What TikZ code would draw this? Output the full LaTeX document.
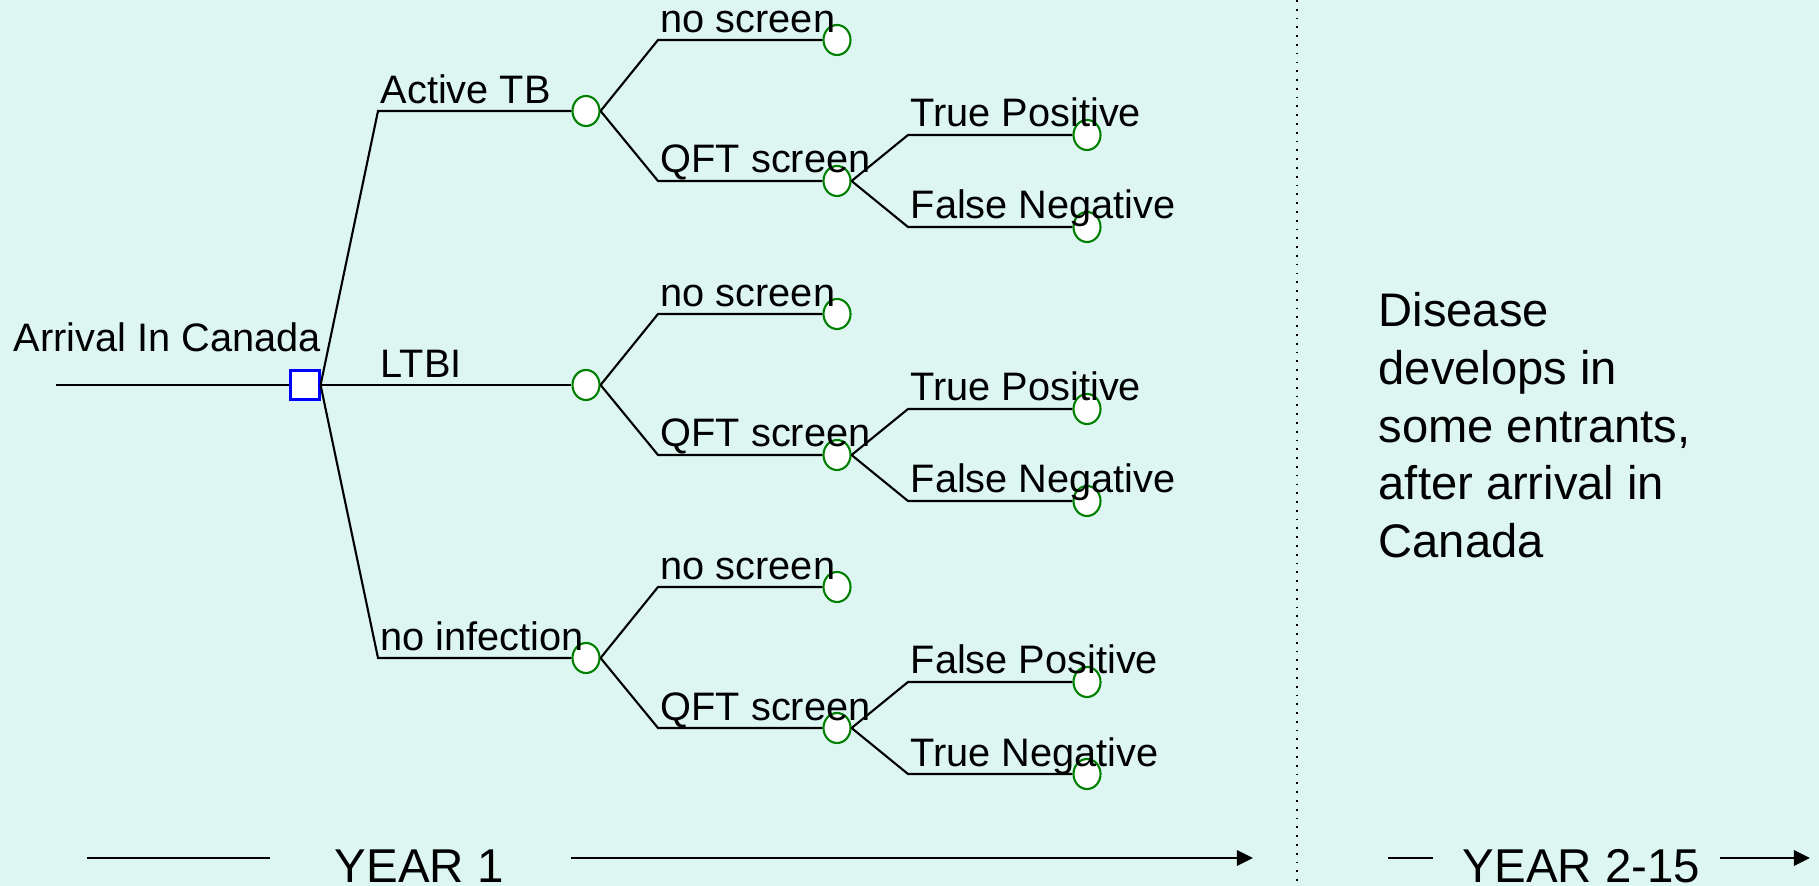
\documentclass[tikz,border=0pt]{standalone}
\usepackage{fontspec}
\setmainfont{Liberation Sans}
\usetikzlibrary{arrows.meta,shapes.geometric}
\definecolor{bgcyan}{RGB}{221,246,241}
\definecolor{chgreen}{RGB}{0,128,0}
\definecolor{decblue}{RGB}{0,0,255}
\tikzset{
  branch/.style={line width=0.6pt},
  chance/.style={ellipse, draw=chgreen, fill=white, line width=0.6pt,
    minimum width=0.27cm, minimum height=0.30cm, inner sep=0pt},
  decision/.style={draw=decblue, fill=white, line width=0.6pt,
    minimum size=0.29cm, inner sep=0pt},
  lbl/.style={anchor=base west, inner sep=0pt, font=\fontsize{11.3}{13}\selectfont},
  biglbl/.style={anchor=base west, inner sep=0pt, font=\fontsize{13.5}{16}\selectfont},
  timearrow/.style={line width=0.6pt, -{Triangle[length=4.6pt,width=4.4pt]}}
}
\begin{document}
\begin{tikzpicture}[x=0.01cm,y=-0.01cm]
\fill[bgcyan] (0,0) rectangle (1819,886);
\useasboundingbox (0,0) rectangle (1819,886);

% root: decision node
\node[decision] (arr) at (305,385) {};
\coordinate (start) at (56,385);
\draw[branch] (start) -- (arr.west);
\node[lbl] (arrtxt) at (13,352) {Arrival In Canada};

% three infection states, each with screening choice
\foreach \g/\y/\name/\up/\dn in {A/111/Active TB/True Positive/False Negative,
                                 B/385/LTBI/True Positive/False Negative,
                                 C/658/no infection/False Positive/True Negative}{
  \coordinate (c\g) at (378,\y);
  \node[chance] (ch\g) at (586,\y) {};
  \coordinate (ns\g) at (658,\y-71);
  \node[chance] (nsend\g) at (837,\y-71) {};
  \coordinate (qs\g) at (658,\y+70);
  \node[chance] (qft\g) at (837,\y+70) {};
  \coordinate (up\g) at (908,\y+24);
  \node[chance] (upend\g) at (1087,\y+24) {};
  \coordinate (dn\g) at (908,\y+116);
  \node[chance] (dnend\g) at (1087,\y+116) {};
  \draw[branch] (arr.east) -- (c\g) -- (ch\g.west);
  \draw[branch] (ch\g.east) -- (ns\g) -- (nsend\g.west);
  \draw[branch] (ch\g.east) -- (qs\g) -- (qft\g.west);
  \draw[branch] (qft\g.east) -- (up\g) -- (upend\g.west);
  \draw[branch] (qft\g.east) -- (dn\g) -- (dnend\g.west);
  \node[lbl] (lab\g) at (380,\y-7) {\name};
  \node[lbl] (nslab\g) at (660,\y-78) {no screen};
  \node[lbl] (qslab\g) at (660,\y+62) {QFT screen};
  \node[lbl] (uplab\g) at (910,\y+16) {\up};
  \node[lbl] (dnlab\g) at (910,\y+108) {\dn};
}

% later years
\draw[dotted, line width=0.5pt] (1297,0) -- (1297,886);
\node[anchor=north west, align=left, inner sep=0pt,
  font=\fontsize{13.4}{16.4}\selectfont] (note) at (1378,292)
  {Disease\\develops in\\some entrants,\\after arrival in\\Canada};

% time axis
\coordinate (t1a) at (87,858);
\coordinate (t1b) at (270,858);
\coordinate (t1c) at (571,858);
\coordinate (t1d) at (1253,858);
\coordinate (t2a) at (1388,858);
\coordinate (t2b) at (1433,858);
\coordinate (t2c) at (1720,858);
\coordinate (t2d) at (1810,858);
\draw[branch] (t1a) -- (t1b);
\node[biglbl] (year1) at (334,882) {YEAR 1};
\draw[timearrow] (t1c) -- (t1d);
\draw[branch] (t2a) -- (t2b);
\node[biglbl] (year2) at (1462,882) {YEAR 2-15};
\draw[timearrow] (t2c) -- (t2d);
\end{tikzpicture}
\end{document}
